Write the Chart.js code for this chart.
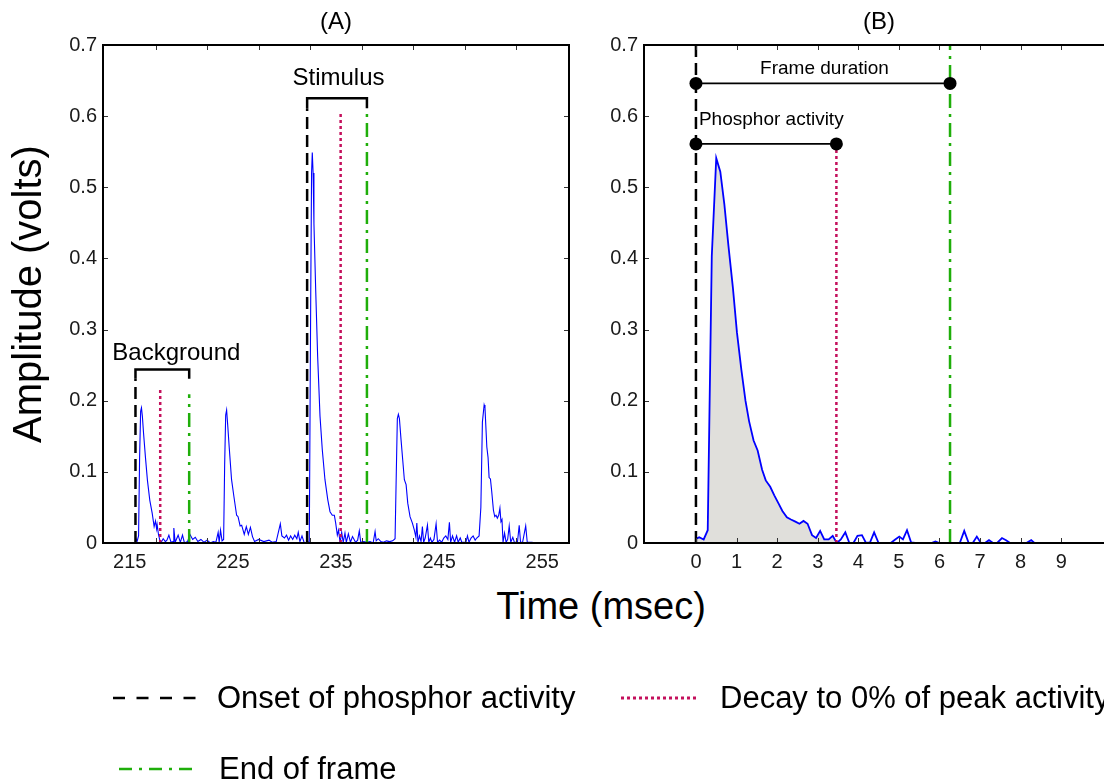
<!DOCTYPE html>
<html><head><meta charset="utf-8">
<script src="https://cdn.jsdelivr.net/npm/chart.js@4.4.0/dist/chart.umd.min.js"></script>
<style>
html,body{margin:0;padding:0;width:1104px;height:784px;overflow:hidden;background:#fff;font-family:"Liberation Sans",Arial,Helvetica,sans-serif;position:relative;}
#cA{position:absolute;left:0;top:0;}
#cB{position:absolute;left:590px;top:0;}
.txt{position:absolute;white-space:nowrap;color:#000;}
svg{position:absolute;left:0;top:0;}
</style></head><body>
<canvas id="cA" width="580" height="580"></canvas>
<canvas id="cB" width="540" height="580"></canvas>
<div class="txt" id="xTitle" style="left:0;width:1202px;text-align:center;top:583px;font-size:38px;line-height:46px;">Time (msec)</div>
<svg width="1104" height="784">
  <line x1="113" y1="698" x2="196" y2="698" stroke="#000" stroke-width="2.5" stroke-dasharray="12,11.5"/>
  <line x1="621" y1="698" x2="696" y2="698" stroke="#c4105c" stroke-width="3" stroke-dasharray="3,3"/>
  <line x1="119" y1="769" x2="195" y2="769" stroke="#1fae0a" stroke-width="2.5" stroke-dasharray="13,7,3,7"/>
</svg>
<div class="txt" style="left:217px;top:679px;font-size:31px;line-height:37px;">Onset of phosphor activity</div>
<div class="txt" style="left:720px;top:679px;font-size:31px;line-height:37px;">Decay to 0% of peak activity</div>
<div class="txt" style="left:219px;top:750px;font-size:31px;line-height:37px;">End of frame</div>
<script>
// ---------- DATA ----------
// Panel A: photodiode trace (time in msec, amplitude in volts)
const traceA = [
[215.55,0.008],[215.7,0.002],[215.85,0.01],[215.95,0.12],[216.05,0.185],[216.13,0.19],[216.22,0.178],
[216.33,0.155],[216.52,0.12],[216.71,0.088],[216.94,0.06],[217.17,0.042],[217.36,0.023],[217.49,0.031],
[217.6,0.02],[217.65,0.026],[217.78,0.012],[217.91,0.004],[218.0,0.0],[218.24,0.006],[218.45,0.002],
[218.6,0.004],[218.79,0.011],[219.0,0.001],[219.2,0.002],[219.27,0.021],[219.4,0.001],[219.69,0.011],
[219.9,0.001],[220.11,0.011],[220.3,0.0],[220.6,0.002],[220.83,0.012],[221.1,0.005],[221.35,0.008],
[221.6,0.002],[221.9,0.005],[222.2,0.001],[222.5,0.004],[222.8,0.0],[223.1,0.002],[223.35,0.001],
[223.57,0.015],[223.67,0.001],[223.8,0.018],[223.95,0.003],[224.1,0.005],[224.2,0.11],[224.3,0.18],
[224.39,0.187],[224.5,0.165],[224.64,0.135],[224.87,0.089],[225.1,0.065],[225.36,0.039],[225.5,0.037],
[225.7,0.024],[225.85,0.025],[226.1,0.012],[226.3,0.023],[226.5,0.012],[226.7,0.022],[226.9,0.009],
[227.1,0.002],[227.5,0.005],[228.0,0.002],[228.5,0.004],[228.8,0.001],[229.2,0.002],[229.6,0.027],
[229.75,0.01],[230.0,0.007],[230.2,0.011],[230.4,0.004],[230.6,0.01],[230.8,0.005],[231.0,0.011],
[231.2,0.006],[231.34,0.015],[231.5,0.002],[231.7,0.01],[231.9,0.001],[232.2,0.0],[232.41,0.002],
[232.55,0.35],[232.63,0.52],[232.7,0.549],[232.78,0.52],[232.86,0.449],[233.03,0.356],[233.22,0.262],
[233.45,0.178],[233.67,0.131],[233.93,0.089],[234.2,0.061],[234.42,0.044],[234.64,0.039],[234.84,0.039],
[234.97,0.028],[235.13,0.011],[235.25,0.018],[235.4,0.0],[235.55,0.015],[235.7,0.001],[235.87,0.014],
[236.0,0.001],[236.2,0.013],[236.4,0.001],[236.6,0.009],[236.9,0.001],[237.1,0.004],[237.26,0.017],
[237.4,0.001],[237.7,0.002],[238.0,0.001],[238.3,0.002],[238.6,0.0],[238.79,0.016],[238.9,0.003],
[239.1,0.006],[239.35,0.002],[239.6,0.001],[239.9,0.003],[240.2,0.002],[240.5,0.003],[240.73,0.006],
[240.85,0.1],[240.95,0.175],[241.05,0.181],[241.15,0.175],[241.31,0.145],[241.47,0.117],[241.63,0.089],
[241.8,0.082],[241.96,0.056],[242.18,0.037],[242.41,0.028],[242.6,0.018],[242.75,0.008],[242.84,0.028],
[242.95,0.001],[243.1,0.01],[243.25,0.002],[243.38,0.023],[243.5,0.001],[243.65,0.007],[243.87,0.025],
[244.0,0.001],[244.15,0.007],[244.3,0.001],[244.5,0.005],[244.71,0.027],[244.85,0.001],[245.05,0.004],
[245.25,0.001],[245.45,0.007],[245.65,0.01],[245.85,0.005],[246.0,0.029],[246.12,0.001],[246.3,0.01],
[246.5,0.001],[246.7,0.01],[246.85,0.001],[247.05,0.007],[247.2,0.001],[247.6,0.001],[247.75,0.01],
[247.9,0.001],[248.1,0.007],[248.3,0.01],[248.5,0.004],[248.65,0.007],[248.88,0.01],[249.05,0.05],
[249.2,0.17],[249.37,0.194],[249.45,0.19],[249.63,0.135],[249.75,0.12],[249.85,0.092],[249.98,0.09],
[250.1,0.073],[250.27,0.046],[250.4,0.037],[250.52,0.039],[250.65,0.035],[250.78,0.039],[250.9,0.049],
[251.0,0.03],[251.1,0.033],[251.2,0.001],[251.35,0.014],[251.5,0.001],[251.65,0.005],[251.8,0.024],
[251.95,0.001],[252.15,0.008],[252.3,0.001],[252.6,0.001],[252.77,0.025],[252.9,0.001],[253.1,0.001],
[253.4,0.024],[253.55,0.001],[254.0,0.001],[254.4,0.0]
];
// Panel A event markers: [time, top of line]
const onsetA = [[215.55,0.231],[232.2,0.611]];
const decayA = [[217.95,0.219],[235.45,0.603]];
const endA   = [[220.76,0.209],[238.0,0.611]];
const bracketA = [[215.55,220.76,0.244,0.231,'Background'],[232.2,238.0,0.625,0.611,'Stimulus']];
const xLabelsA = [215,225,235,245,255];
const xMarksA = [217.5,222.5,227.5,232.5,237.5,242.5,247.5,252.5];

// Panel B: single frame, time from onset (msec)
const timeB = [0.0,0.08,0.19,0.29,0.39,0.50,0.60,0.70,0.80,0.91,1.01,1.12,1.22,1.31,1.42,1.52,1.63,1.72,1.83,1.93,
2.04,2.13,2.24,2.34,2.45,2.55,2.65,2.75,2.86,2.96,3.06,3.16,3.27,3.37,3.47,3.57,3.68,3.78,3.88,3.98,
4.09,4.19,4.29,4.39,4.50,4.60,4.70,4.80,4.91,5.01,5.10,5.20,5.30,5.40,5.50,5.60,5.70,5.80,5.90,6.00,
6.10,6.20,6.30,6.40,6.50,6.61,6.72,6.82,6.92,7.02,7.12,7.22,7.32,7.42,7.54,7.64,7.74,7.84,7.94,8.04,
8.14,8.26,8.34];
const voltsB = [0.006,0.008,0.005,0.018,0.403,0.541,0.522,0.476,0.418,0.359,0.296,0.243,0.200,0.171,0.144,0.130,0.103,0.088,0.079,0.067,
0.055,0.045,0.036,0.033,0.030,0.027,0.031,0.027,0.011,0.007,0.017,0.005,0.005,0.010,0.000,0.005,0.015,0.000,0.000,0.010,
0.011,0.000,0.001,0.015,0.000,0,0,0,0.005,0.009,0.005,0.018,0.001,0,0,0,0,0,0.002,0,
0,0,0,0,0,0.017,0,0,0.009,0,0,0.004,0,0,0.007,0.004,0,0,0,0,
0,0.004,0];
const onsetB = 0, decayB = 3.46, endB = 6.26;
const frameDurY = 0.646, phosphorY = 0.561;
const xLabelsB = [0,1,2,3,4,5,6,7,8,9];

const yTicks = [0,0.1,0.2,0.3,0.4,0.5,0.6,0.7];
const yTickLabels = ['0','0.1','0.2','0.3','0.4','0.5','0.6','0.7'];

// ---------- STYLE ----------
Chart.defaults.font.family = "'Liberation Sans', Arial, Helvetica, sans-serif";
Chart.defaults.color = '#1a1a1a';
Chart.defaults.animation = false;
const BLUE='#0000ff', RED='#c4105c', GREEN='#1fae0a', BLACK='#000000', FILLC='#e0dfdb';
const DASH=[12,6], DOT=[3,3], DASHDOT=[14,6,3,6];

const P = arr => arr.map(([x,y]) => ({x,y}));
function ds(data, color, width, dash, extra){
  return Object.assign({data, borderColor:color, backgroundColor:color, borderWidth:width, borderDash:dash||[],
    pointRadius:0, fill:false, tension:0, borderCapStyle:'butt', borderJoinStyle:'miter'}, extra||{});
}

const boxTicks = {
  id:'boxTicks',
  afterDatasetsDraw(chart, args, o){
    const {ctx, chartArea:a, scales:{x,y}} = chart;
    ctx.save();
    ctx.strokeStyle = '#333'; ctx.lineWidth = 1;
    ctx.beginPath();
    (o.xMarks||[]).forEach(v=>{ const px=Math.round(x.getPixelForValue(v))+0.5;
      ctx.moveTo(px,a.bottom); ctx.lineTo(px,a.bottom-5); ctx.moveTo(px,a.top); ctx.lineTo(px,a.top+5); });
    (o.yMarks||[]).forEach(v=>{ const py=Math.round(y.getPixelForValue(v))+0.5;
      ctx.moveTo(a.left,py); ctx.lineTo(a.left+5,py); ctx.moveTo(a.right,py); ctx.lineTo(a.right-5,py); });
    ctx.stroke();
    ctx.strokeStyle = '#000'; ctx.lineWidth = 2;
    ctx.strokeRect(a.left, a.top, a.right-a.left, a.bottom-a.top);
    ctx.fillStyle = '#000'; ctx.textBaseline = 'middle';
    (o.texts||[]).forEach(t=>{ ctx.font = t.font; ctx.textAlign = t.align||'center';
      ctx.fillText(t.text, x.getPixelForValue(t.x)+(t.dx||0), y.getPixelForValue(t.y)+(t.dy||0)); });
    ctx.font = o.titleFont; ctx.textAlign = 'center';
    ctx.fillText(o.title, (a.left+a.right)/2, o.titleY);
    ctx.restore();
  }
};

function scalesFor(xmin, xmax, xLabels, yWidth, yTitle){
  return {
    x:{type:'linear', min:xmin, max:xmax, bounds:'data',
       grid:{display:false, drawTicks:false, drawOnChartArea:false}, border:{display:false},
       afterBuildTicks: s => { s.ticks = xLabels.map(v=>({value:v})); },
       afterFit: s => { s.height = 37; },
       ticks:{autoSkip:false, maxRotation:0, padding:7, font:{size:20}, color:'#1a1a1a', callback: v => String(v)}},
    y:{type:'linear', min:0, max:0.7, bounds:'data',
       grid:{display:false, drawTicks:false, drawOnChartArea:false}, border:{display:false},
       afterBuildTicks: s => { s.ticks = yTicks.map(v=>({value:v})); },
       afterFit: s => { s.width = yWidth; },
       title: yTitle ? {display:true, text:yTitle, font:{size:40}, color:'#000', padding:{top:6,bottom:0}} : {display:false},
       ticks:{autoSkip:false, padding:6, font:{size:20}, color:'#1a1a1a',
              callback: v => { const i = yTicks.findIndex(t=>Math.abs(t-v)<1e-9); return i>=0 ? yTickLabels[i] : ''; }}}
  };
}

// ---------- PANEL A ----------
const dsA = [];
bracketA.forEach(([x0,x1,top,leg])=>{
  dsA.push(ds(P([[x0,leg],[x0,top],[x1,top],[x1,leg]]), BLACK, 2.5));
});
onsetA.forEach(([t,h])=>dsA.push(ds(P([[t,0],[t,h]]), BLACK, 2.5, DASH)));
decayA.forEach(([t,h])=>dsA.push(ds(P([[t,0],[t,h]]), RED, 2.5, DOT)));
endA.forEach(([t,h])=>dsA.push(ds(P([[t,0],[t,h]]), GREEN, 2.5, DASHDOT)));
dsA.push(ds(P(traceA), BLUE, 1.1));

new Chart(document.getElementById('cA'), {
  type:'line',
  data:{datasets:dsA},
  options:{
    responsive:false, animation:false, events:[],
    layout:{padding:{left:0, right:11, top:45, bottom:0}},
    plugins:{legend:{display:false}, tooltip:{enabled:false},
      boxTicks:{xMarks:xMarksA, yMarks:yTicks, title:'(A)', titleY:22, titleFont:"24px 'Liberation Sans', Arial, sans-serif",
        texts: bracketA.map(([x0,x1,top,leg,label],i)=>({text:label, x:(x0+x1)/2, y:top, dx: i===0?14:1.5, dy: i===0?-16.5:-19.5,
          font:"24px 'Liberation Sans', Arial, sans-serif"}))}},
    scales: scalesFor(212.4, 257.6, xLabelsA, 103, 'Amplitude (volts)')
  },
  plugins:[boxTicks]
});

// ---------- PANEL B ----------
const traceB = timeB.map((t,i)=>({x:t, y:voltsB[i]}));
const fillB = traceB.filter(p => p.x <= decayB + 0.02);
const dsB = [
  ds(P([[onsetB,frameDurY],[endB,frameDurY]]), BLACK, 1.8, [], {pointRadius:6.5, pointBackgroundColor:BLACK, pointBorderWidth:0}),
  ds(P([[onsetB,phosphorY],[decayB,phosphorY]]), BLACK, 1.8, [], {pointRadius:6.5, pointBackgroundColor:BLACK, pointBorderWidth:0}),
  ds(P([[onsetB,0],[onsetB,0.7]]), BLACK, 2.5, DASH),
  ds(P([[decayB,0],[decayB,phosphorY]]), RED, 2.5, DOT),
  ds(P([[endB,0],[endB,0.7]]), GREEN, 2.5, DASHDOT),
  ds(traceB, BLUE, 1.8),
  ds(fillB, 'rgba(0,0,0,0)', 0, [], {fill:'origin', backgroundColor:FILLC})
];

new Chart(document.getElementById('cB'), {
  type:'line',
  data:{datasets:dsB},
  options:{
    responsive:false, animation:false, events:[],
    layout:{padding:{left:0, right:16, top:45, bottom:0}},
    plugins:{legend:{display:false}, tooltip:{enabled:false},
      boxTicks:{xMarks:xLabelsB, yMarks:yTicks, title:'(B)', titleY:22, titleFont:"24px 'Liberation Sans', Arial, sans-serif",
        texts:[
          {text:'Frame duration', x:(onsetB+endB)/2, y:frameDurY, dx:1.5, dy:-15, font:"19px 'Liberation Sans', Arial, sans-serif"},
          {text:'Phosphor activity', x:onsetB, y:phosphorY, dx:3, dy:-24, align:'left', font:"19px 'Liberation Sans', Arial, sans-serif"}
        ]}},
    scales: scalesFor(-1.28, 10.3, xLabelsB, 54, null)
  },
  plugins:[boxTicks]
});
</script>
</body></html>
